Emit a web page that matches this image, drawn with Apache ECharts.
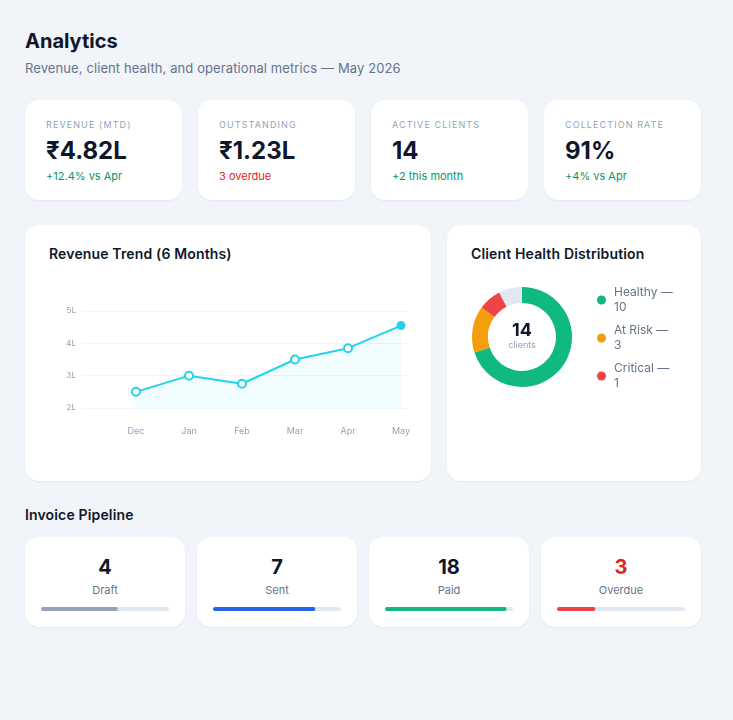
<!DOCTYPE html>
<html><head><meta charset="utf-8">
<script src="https://cdn.jsdelivr.net/npm/echarts@6/dist/echarts.min.js"></script>
<style>
*{margin:0;padding:0;box-sizing:border-box}
body{width:733px;height:720px;background:#f1f4f9;font-family:Inter,'Noto Sans',sans-serif;position:relative;overflow:hidden;color:#0f172a}
.abs{position:absolute;white-space:nowrap}
.card{position:absolute;background:#fff;border-radius:14px;box-shadow:0 1px 2px rgba(15,23,42,.06)}
.title{font-size:20px;font-weight:700;line-height:24px}
.sub{font-size:13px;color:#64748b;line-height:18px;letter-spacing:.1px}
.klabel{font-size:9px;letter-spacing:1.1px;color:#94a3b8;line-height:12px}
.kval{font-size:24px;font-weight:700;line-height:30px;color:#0f172a}
.knote{font-size:11px;line-height:16px}
.ctitle{font-size:14px;font-weight:600;line-height:20px;color:#0f172a;letter-spacing:.15px}
.pnum{font-size:20px;font-weight:700;line-height:26px;width:100%;text-align:center}
.plab{font-size:11px;color:#64748b;line-height:16px;width:100%;text-align:center}
</style></head>
<body>
<div class="abs title" style="left:25px;top:29px">Analytics</div>
<div class="abs sub" style="left:25px;top:59px">Revenue, client health, and operational metrics — May 2026</div>

<div class="card" id="trendCard" style="left:25px;top:225px;width:406px;height:256px">
  <div class="abs ctitle" style="left:24px;top:19px">Revenue Trend (6 Months)</div>
  <div id="trend" class="abs" style="left:0;top:60px;width:406px;height:196px"></div>
</div>
<div class="card" id="healthCard" style="left:447px;top:225px;width:254px;height:256px">
  <div class="abs ctitle" style="left:24px;top:19px">Client Health Distribution</div>
  <div id="health" class="abs" style="left:0;top:45px;width:254px;height:211px"></div>
</div>
<div class="abs ctitle" style="left:25px;top:505px">Invoice Pipeline</div>

<script>
// ---- data ----
const kpiLabels = ['REVENUE (MTD)', 'OUTSTANDING', 'ACTIVE CLIENTS', 'COLLECTION RATE'];
const kpiValues = ['₹4.82L', '₹1.23L', '14', '91%'];
const kpiNotes = ['+12.4% vs Apr', '3 overdue', '+2 this month', '+4% vs Apr'];

const months = ['Dec', 'Jan', 'Feb', 'Mar', 'Apr', 'May'];
const revenueLakh = [2.5, 3.0, 2.75, 3.5, 3.85, 4.55];
const yTickMin = 2, yTickMax = 5, yTickStep = 1;

const healthNames = ['Healthy', 'At Risk', 'Critical'];
const healthCounts = [10, 3, 1];
const healthArcShare = [70, 15, 7.5, 7.5]; // ring shares as drawn (last = unfilled remainder)
const totalClients = 14;

const pipelineStages = ['Draft', 'Sent', 'Paid', 'Overdue'];
const pipelineCounts = [4, 7, 18, 3];
const pipelineProgress = [60, 80, 95, 30];

// ---- styles ----
const kpiNoteColors = ['#059669', '#dc2626', '#059669', '#059669'];
const healthColors = ['#10b981', '#f59e0b', '#ef4444', '#e2e8f0'];
const pipelineColors = ['#94a3b8', '#2563eb', '#10b981', '#ef4444'];
const pipelineNumColors = ['#0f172a', '#0f172a', '#0f172a', '#dc2626'];

// ---- KPI cards ----
kpiLabels.forEach((lab, i) => {
  const c = document.createElement('div');
  c.className = 'card';
  c.style.cssText = `left:${25 + i * 173}px;top:100px;width:157px;height:100px`;
  c.innerHTML = `<div class="abs klabel" style="left:21px;top:19px">${lab}</div>
    <div class="abs kval" style="left:21px;top:36px">${kpiValues[i]}</div>
    <div class="abs knote" style="left:21px;top:68px;color:${kpiNoteColors[i]}">${kpiNotes[i]}</div>`;
  document.body.appendChild(c);
});

// ---- pipeline cards ----
pipelineStages.forEach((st, i) => {
  const c = document.createElement('div');
  c.className = 'card';
  c.style.cssText = `left:${25 + i * 172}px;top:537px;width:160px;height:90px`;
  c.innerHTML = `<div class="abs pnum" style="left:0;top:17px;color:${pipelineNumColors[i]}">${pipelineCounts[i]}</div>
    <div class="abs plab" style="left:0;top:45px">${st}</div>
    <div class="abs" id="pbar${i}" style="left:16px;top:70px;width:128px;height:4px"></div>`;
  document.body.appendChild(c);
  const ch = echarts.init(document.getElementById('pbar' + i), null, {renderer: 'canvas'});
  ch.setOption({
    animation: false,
    grid: {left: 0, right: 0, top: 0, bottom: 0},
    xAxis: {type: 'value', min: 0, max: 100, show: false},
    yAxis: {type: 'category', data: [st], show: false},
    series: [{
      type: 'bar', data: [pipelineProgress[i]], barWidth: 4,
      showBackground: true,
      backgroundStyle: {color: '#e2e8f0', borderRadius: 2},
      itemStyle: {color: pipelineColors[i], borderRadius: 2}
    }]
  });
});

// ---- revenue trend ----
const trend = echarts.init(document.getElementById('trend'));
const lineColor = '#22d3ee';
trend.setOption({
  animation: false,
  grid: [
    {left: 57, right: 24, top: 26, height: 97},
    {left: 111, right: 30, top: 26, height: 97}
  ],
  xAxis: [
    {gridIndex: 0, type: 'category', data: months, show: false},
    {gridIndex: 1, type: 'category', data: months, boundaryGap: false,
      axisLine: {show: false}, axisTick: {show: false},
      axisLabel: {color: '#94a3b8', fontSize: 9, margin: 19, fontFamily: 'Inter'}}
  ],
  yAxis: [
    {gridIndex: 0, type: 'value', min: yTickMin, max: yTickMax, interval: yTickStep,
      axisLine: {show: false}, axisTick: {show: false},
      axisLabel: {color: '#94a3b8', fontSize: 8, margin: 6, formatter: '{value}L', fontFamily: 'Inter'},
      splitLine: {lineStyle: {color: '#f1f5f9', width: 1}}},
    {gridIndex: 1, type: 'value', min: yTickMin, max: yTickMax, interval: yTickStep, show: false,
      splitLine: {show: false}}
  ],
  series: [{
    type: 'line', xAxisIndex: 1, yAxisIndex: 1,
    data: revenueLakh.map((v, i) => i === revenueLakh.length - 1
      ? {value: v, itemStyle: {color: lineColor}, symbolSize: 7}
      : v),
    symbol: 'circle', symbolSize: 8,
    itemStyle: {color: '#fff', borderColor: lineColor, borderWidth: 2},
    lineStyle: {color: lineColor, width: 2},
    areaStyle: {color: 'rgba(34,211,238,0.09)', origin: 'start'}
  }]
});

// ---- client health donut ----
const health = echarts.init(document.getElementById('health'));
const pieData = healthArcShare.map((v, i) => ({
  name: i < healthNames.length ? healthNames[i] : 'Unassigned',
  value: v,
  itemStyle: {color: healthColors[i]}
}));
health.setOption({
  animation: false,
  legend: {
    orient: 'vertical', left: 150, top: 15, padding: 0,
    data: healthNames, icon: 'circle', itemWidth: 15, itemHeight: 9, itemGap: 8,
    selectedMode: false,
    formatter: name => `${name} —\n${healthCounts[healthNames.indexOf(name)]}`,
    textStyle: {color: '#64748b', fontSize: 12, lineHeight: 15, fontFamily: 'Inter'}
  },
  series: [{
    type: 'pie', center: [75, 67], radius: [34, 50], startAngle: 90, clockwise: true,
    label: {show: false}, labelLine: {show: false}, silent: true,
    data: pieData
  }],
  graphic: [
    {type: 'text', x: 75, y: 61, style: {text: String(totalClients), align: 'center', verticalAlign: 'middle',
      font: '700 18px Inter', fill: '#0f172a'}},
    {type: 'text', x: 75, y: 75, style: {text: 'clients', align: 'center', verticalAlign: 'middle',
      font: '9px Inter', fill: '#94a3b8'}}
  ]
});
</script>
</body></html>
